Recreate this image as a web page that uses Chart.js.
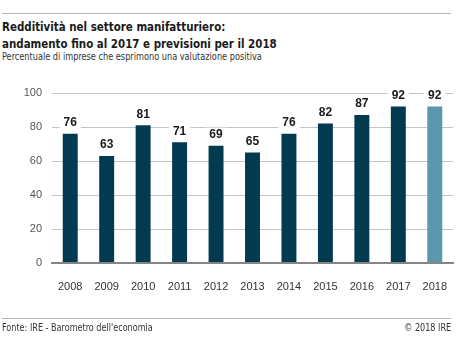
<!DOCTYPE html>
<html>
<head>
<meta charset="utf-8">
<script src="https://cdn.jsdelivr.net/npm/chart.js@4/dist/chart.umd.min.js"></script>
<style>
  html, body { margin: 0; padding: 0; background: #fff; }
  body { width: 461px; height: 340px; position: relative; overflow: hidden;
         font-family: "Liberation Sans Narrow", "DejaVu Sans Condensed", "Liberation Sans", sans-serif; color: #1a1a1a; }
  .rule { position: absolute; left: 2px; width: 449px; height: 1px; background: #b5b5b5; }
  .txt { position: absolute; left: 2px; transform-origin: left top; white-space: nowrap; font-stretch: condensed; }
  #title { top: 18px; font-size: 13px; font-weight: bold; line-height: 17px; transform: scaleX(0.88); }
  #sub { top: 51px; font-size: 10px; color: #333; transform: scaleX(0.91); }
  #foot { top: 322px; font-size: 10px; color: #333; transform: scaleX(0.9); }
  #copy { position: absolute; right: 10px; top: 322px; font-size: 10px; color: #333; transform: scaleX(0.9); transform-origin: right top; font-stretch: condensed; }
  #wrap { position: absolute; left: 0; top: 0; width: 461px; height: 340px; }
</style>
</head>
<body>
<div class="rule" style="top:13px"></div>
<div id="title" class="txt">Redditività nel settore manifatturiero:<br>andamento fino al 2017 e previsioni per il 2018</div>
<div id="sub" class="txt">Percentuale di imprese che esprimono una valutazione positiva</div>
<div id="wrap"><canvas id="chart" width="461" height="340"></canvas></div>
<div class="rule" style="top:318px"></div>
<div id="foot" class="txt">Fonte: IRE - Barometro dell'economia</div>
<div id="copy">© 2018 IRE</div>
<script>
// dati
const anni = ['2008', '2009', '2010', '2011', '2012', '2013', '2014', '2015', '2016', '2017', '2018'];
const valori = [76, 63, 81, 71, 69, 65, 76, 82, 87, 92, 92];
const previsione = [false, false, false, false, false, false, false, false, false, false, true];
const tickY = [0, 20, 40, 60, 80, 100];

const scuro = '#023a50';
const chiaro = '#5b97ad';

// etichette sopra le barre, con fondo bianco sopra la griglia
const etichette = {
    id: 'etichette',
    afterDatasetsDraw(chart) {
        const ctx = chart.ctx;
        const meta = chart.getDatasetMeta(0);
        ctx.save();
        ctx.font = 'bold 12px "Liberation Sans", Arial, sans-serif';
        ctx.textAlign = 'center';
        ctx.textBaseline = 'bottom';
        meta.data.forEach(function (bar, i) {
            const txt = String(valori[i]);
            const w = ctx.measureText(txt).width;
            const y = bar.y - 6;
            ctx.fillStyle = '#fff';
            ctx.fillRect(bar.x - w / 2 - 4, y - 12, w + 8, 13);
            ctx.fillStyle = '#1a1a1a';
            ctx.fillText(txt, bar.x, y + 1);
        });
        ctx.restore();
    }
};

new Chart(document.getElementById('chart'), {
    type: 'bar',
    data: {
        labels: anni,
        datasets: [{
            data: valori,
            backgroundColor: previsione.map(p => p ? chiaro : scuro),
            categoryPercentage: 1,
            barPercentage: 0.41
        }]
    },
    options: {
        responsive: false,
        animation: false,
        layout: { padding: { left: 0, right: 8, top: 93, bottom: 42 } },
        plugins: { legend: { display: false }, tooltip: { enabled: false } },
        scales: {
            x: {
                grid: { display: false },
                border: { display: true, color: '#858585', width: 2 },
                ticks: { color: '#333', font: { size: 11, family: '"Liberation Sans", Arial, sans-serif' }, padding: 9 },
                afterFit(s) { s.height = 35; }
            },
            y: {
                min: 0,
                max: 100,
                afterBuildTicks(s) { s.ticks = tickY.map(v => ({ value: v })); },
                grid: {
                    drawTicks: false,
                    color: c => c.tick && c.tick.value === 0 ? '#858585' : '#c4c4c4',
                    lineWidth: c => c.tick && c.tick.value === 0 ? 2 : 1
                },
                border: { display: false },
                ticks: { color: '#555', font: { size: 11, family: '"Liberation Sans", Arial, sans-serif' }, padding: 10 },
                afterFit(s) { s.width = 52; }
            }
        }
    },
    plugins: [etichette]
});
</script>
</body>
</html>
